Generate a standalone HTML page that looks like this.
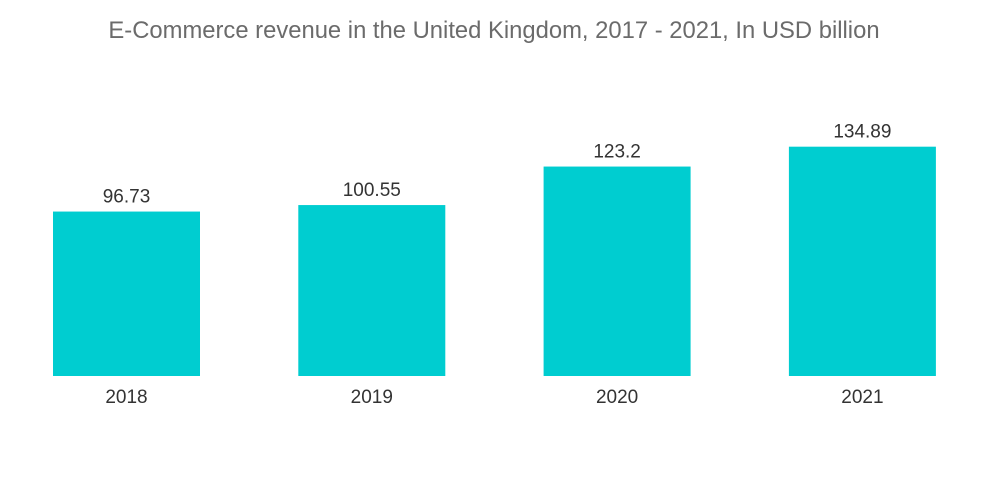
<!DOCTYPE html>
<html><head><meta charset="utf-8"><style>
body{margin:0;background:#fff;}
svg{display:block;font-family:"Liberation Sans",sans-serif;}
</style></head><body>
<svg id="chart" width="1000" height="504">
<text x="494" y="38" text-anchor="middle" font-size="23.8" fill="#6b6b6b">E-Commerce revenue in the United Kingdom, 2017 - 2021, In USD billion</text>
<g id="bars"></g>
</svg>
<script>
const categories=["2018","2019","2020","2021"];
const values=[96.73,100.55,123.2,134.89];
const labels=["96.73","100.55","123.2","134.89"];
const baseY=376, scale=1.70, x0=53, step=245.3, bw=147;
function xPos(i){return x0+i*step;}
function yPos(v){return baseY-v*scale;}
const g=document.getElementById('bars');
const ns="http://www.w3.org/2000/svg";
categories.forEach((c,i)=>{
  const r=document.createElementNS(ns,'rect');
  r.setAttribute('x',xPos(i));r.setAttribute('y',yPos(values[i]));
  r.setAttribute('width',bw);r.setAttribute('height',baseY-yPos(values[i]));
  r.setAttribute('fill','#00cdd0');
  
  
  g.appendChild(r);
  const t=document.createElementNS(ns,'text');
  t.setAttribute('x',xPos(i)+bw/2);t.setAttribute('y',yPos(values[i])-9);
  t.setAttribute('text-anchor','middle');t.setAttribute('font-size','19');t.setAttribute('fill','#333');
  t.textContent=labels[i];
  
  
  g.appendChild(t);
  const a=document.createElementNS(ns,'text');
  a.setAttribute('x',xPos(i)+bw/2);a.setAttribute('y',403);
  a.setAttribute('text-anchor','middle');a.setAttribute('font-size','19');a.setAttribute('fill','#333');
  a.textContent=c;
  
  
  g.appendChild(a);
});
</script>
</body></html>
